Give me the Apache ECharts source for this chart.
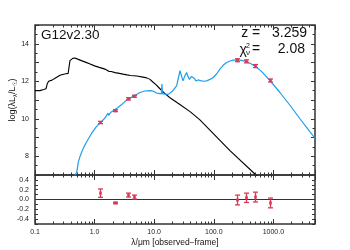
<!DOCTYPE html>
<html><head><meta charset="utf-8">
<script src="https://cdn.jsdelivr.net/npm/echarts@6/dist/echarts.min.js"></script>
<style>html,body{margin:0;padding:0;background:#fff}#c{width:350px;height:250px}</style>
</head><body><div id="c"></div>
<script>
// ---- data ----
const stellarLam = [0.1,0.121,0.14,0.153,0.16,0.169,0.18,0.193,0.217,0.23,0.263,0.29,0.33,0.36,0.383,0.386,0.39,0.41,0.43,0.45,0.47,0.52,0.6,0.7,0.84,1.0,1.2,1.45,1.6,1.65,1.7,1.75,1.9,2.2,2.6,3.0,3.5,4.0,5.1,6.5,7.5,8.5,9.5,10.7,12.5,15.2,18.4,27,40,58,83,187,511,900];
const stellarLog = [11.5,11.5,11.56,11.6,11.85,12.0,12.0,12.06,12.16,12.22,12.32,12.36,12.4,12.42,12.47,13.1,13.19,13.16,13.22,13.18,13.24,13.18,13.1,13.02,12.92,12.82,12.74,12.66,12.6,12.5,12.62,12.52,12.52,12.46,12.42,12.38,12.34,12.31,12.28,12.22,12.18,12.1,11.96,11.82,11.6,11.34,11.12,10.76,10.38,9.95,9.45,8.3,7.0,6.3];
const modelLam = [0.434,0.469,0.487,0.5,0.513,0.533,0.569,0.608,0.664,0.737,0.894,1.056,1.232,1.494,1.61,1.68,1.72,1.88,2.2,2.47,2.85,3.1,3.2,3.3,3.54,3.93,4.46,5.78,7.0,8.5,9.66,11.0,13.2,13.5,13.8,17.2,19.9,23.8,25.6,27.1,28.7,30.4,32.9,35.1,36.9,39.1,42.2,44.8,47.5,50.2,54.3,58.6,65.9,76,86.4,98.2,112,127,144,164,187,212,242,275,347,405,491,644,877,1290,1900,2794,3800,5000];
const modelLog = [6.0,7.0,7.08,7.15,7.33,7.69,7.98,8.23,8.5,8.77,9.23,9.55,9.77,10.04,10.12,10.3,10.18,10.35,10.49,10.6,10.76,10.86,10.96,10.9,11.03,11.1,11.2,11.4,11.48,11.5,11.47,11.37,11.33,11.85,11.33,11.3,11.45,11.75,12.2,12.56,12.3,12.02,12.3,12.47,12.25,12.1,12.25,12.32,12.15,12.02,12.07,12.05,12.0,12.02,12.1,12.2,12.4,12.65,12.85,13.0,13.08,13.13,13.14,13.13,13.06,12.96,12.81,12.5,12.04,11.4,10.72,10.0,9.45,8.96];
const obsLam = [1.25,2.2,3.6,4.5,250,350,500,870];
const obsLog = [9.8,10.43,11.06,11.2,13.12,13.06,12.81,12.04];
const obsErr = [0.06,0.05,0.06,0.05,0.08,0.08,0.08,0.08];
const resid = [0.13,-0.07,0.09,0.05,-0.01,0.035,0.05,-0.07];
const residErr = [0.085,0.015,0.04,0.04,0.1,0.095,0.1,0.1];
const xMajorTicks = [0.1,1,10,100,1000];
const xMinorMult = [2,3,4,5,6,7,8,9];
const titleText = 'G12v2.30';
const zText = 'z =   3.259';
const chiValue = '2.08';

const AX = '#333333';
const RED = '#D83A55';
const BLUE = '#1E9EEE';
const XMIN = 0.1, XMAX = 5000;
const GRID_W = 280, MAIN_H = 150, RES_H = 49;
const FONT = '"Liberation Sans", Arial, Helvetica, sans-serif';

function errSeries(idx, xs, ys, es) {
  return {
    type:'custom', xAxisIndex:idx, yAxisIndex:idx, silent:true, z:20,
    data: xs.map((x,i) => [x, ys[i], es[i]]),
    renderItem: function(params, api) {
      const x = api.value(0), y = api.value(1), e = api.value(2);
      const p0 = api.coord([x, y - e]), p1 = api.coord([x, y + e]), pc = api.coord([x, y]);
      const cx = Math.round(pc[0]) + 0.5;
      const st = {stroke:RED, lineWidth:1.3};
      return {type:'group', children:[
        {type:'line', shape:{x1:cx, y1:p0[1], x2:cx, y2:p1[1]}, style:st},
        {type:'line', shape:{x1:cx-2.5, y1:p0[1], x2:cx+2.5, y2:p0[1]}, style:st},
        {type:'line', shape:{x1:cx-2.5, y1:p1[1], x2:cx+2.5, y2:p1[1]}, style:st},
        {type:'rect', shape:{x:cx-1.5, y:pc[1]-1.5, width:3, height:3}, style:{fill:RED, opacity:0.8}}
      ]};
    }
  };
}

// minor log ticks (2..9 per decade) on top and bottom edges; each item = [lambda, edgeValue, lengthPx, direction]
function minorTickSeries(idx, yMin, yMax) {
  const items = [];
  xMajorTicks.forEach(d => xMinorMult.forEach(m => {
    const v = d * m;
    if (v < XMAX) { items.push([v, yMax, 2.5, 1]); items.push([v, yMin, 2.5, -1]); }
  }));
  return {
    type:'custom', xAxisIndex:idx, yAxisIndex:idx, silent:true, z:25,
    data: items,
    renderItem: function(params, api) {
      const p = api.coord([api.value(0), api.value(1)]);
      const len = api.value(2), dir = api.value(3);
      const x = Math.round(p[0]) + 0.5;
      return {type:'line', shape:{x1:x, y1:p[1], x2:x, y2:p[1] + dir * len}, style:{stroke:AX, lineWidth:1}};
    }
  };
}

const tickStyle = {color:AX, width:1};
function xAxisOpt(gi, pos, labels) {
  return {gridIndex:gi, position:pos, type:'log', logBase:10, min:XMIN, max:XMAX,
    axisLine:{show:false, onZero:false}, splitLine:{show:false}, minorTick:{show:false},
    axisTick:{show:true, inside:true, length:5, lineStyle:tickStyle},
    axisLabel: labels ? {show:true, margin:5, fontSize:7, color:'#222', fontFamily:FONT, hideOverlap:false,
      formatter: v => { const l = Math.log10(v); return Math.abs(l - Math.round(l)) < 1e-6 && l < 3.5 ? v.toFixed(1) : ''; }} : {show:false}};
}
function yMainOpt(pos, labels) {
  return {gridIndex:0, position:pos, type:'value', min:7, max:15, interval:1,
    axisLine:{show:false, onZero:false}, splitLine:{show:false},
    axisTick:{show:true, inside:true, length:4, lineStyle:tickStyle},
    minorTick:{show:true, splitNumber:2, length:2.5, lineStyle:tickStyle},
    axisLabel: labels ? {margin:6, fontSize:7, color:'#222', fontFamily:FONT, formatter: v => (v % 2 === 0 && v < 15) ? String(v) : ''} : {show:false}};
}
function yResOpt(pos, labels) {
  return {gridIndex:1, position:pos, type:'value', min:-0.5, max:0.5, interval:0.1,
    axisLine:{show:false, onZero:false}, splitLine:{show:false},
    axisTick:{show:true, inside:true, length:3, lineStyle:tickStyle},
    axisLabel: labels ? {margin:6, fontSize:7, color:'#222', fontFamily:FONT, formatter: v => { const r = Math.round(v*10); return (r % 2 === 0 && Math.abs(r) <= 4) ? (r/10).toFixed(1) : ''; }} : {show:false}};
}

const chart = echarts.init(document.getElementById('c'), null, {renderer:'canvas'});
chart.setOption({
  animation:false,
  backgroundColor:'#fff',
  grid:[
    {left:35, top:25, width:GRID_W, height:MAIN_H, show:true, borderColor:AX, borderWidth:1.5},
    {left:35, top:25 + MAIN_H, width:GRID_W, height:RES_H, show:true, borderColor:AX, borderWidth:1.5}
  ],
  xAxis:[ xAxisOpt(0,'bottom',false), xAxisOpt(1,'bottom',true), xAxisOpt(0,'top',false), xAxisOpt(1,'top',false) ],
  yAxis:[ yMainOpt('left',true), yResOpt('left',true), yMainOpt('right',false), yResOpt('right',false) ],
  series:[
    {type:'line', xAxisIndex:0, yAxisIndex:0, data: stellarLam.map((x,i)=>[x, stellarLog[i]]), showSymbol:false, symbol:'none', lineStyle:{color:'#000', width:1.1}, z:3},
    {type:'line', xAxisIndex:0, yAxisIndex:0, data: modelLam.map((x,i)=>[x, modelLog[i]]), showSymbol:false, symbol:'none', lineStyle:{color:BLUE, width:1.2}, z:4},
    {type:'line', xAxisIndex:1, yAxisIndex:1, data: [[XMIN,0],[XMAX,0]], showSymbol:false, symbol:'none', lineStyle:{color:AX, width:1.2}, z:3},
    errSeries(0, obsLam, obsLog, obsErr),
    errSeries(1, obsLam, resid, residErr),
    minorTickSeries(0, 7, 15),
    minorTickSeries(1, -0.5, 0.5)
  ],
  graphic:[
    {type:'text', x:41, y:35, style:{text:titleText, font:'13.5px '+FONT, fill:'#111', align:'left', verticalAlign:'middle'}},
    {type:'text', x:307, y:33.5, style:{text:zText, font:'14px '+FONT, fill:'#111', align:'right', verticalAlign:'middle'}},
    {type:'text', x:252, y:49.5, style:{text:'=', font:'14px '+FONT, fill:'#111', align:'left', verticalAlign:'middle'}},
    {type:'text', x:305, y:49.5, style:{text:chiValue, font:'14px '+FONT, fill:'#111', align:'right', verticalAlign:'middle'}},
    {type:'text', x:239.5, y:50.5, style:{text:'χ', font:'14px '+FONT, fill:'#111', align:'left', verticalAlign:'middle'}},
    {type:'text', x:246, y:46, style:{text:'2', font:'7px '+FONT, fill:'#111', align:'left', verticalAlign:'middle'}},
    {type:'text', x:246, y:53, style:{text:'ν', font:'8px '+FONT, fill:'#111', align:'left', verticalAlign:'middle'}},
    {type:'text', x:13, y:100, rotation:Math.PI/2, style:{text:'{a|log(λL}{s|λ}{a|/L}{s|☉}{a|)}', align:'center', verticalAlign:'middle',
      rich:{a:{fontSize:9, fontFamily:FONT, fill:'#111', lineHeight:10}, s:{fontSize:6, fontFamily:FONT, fill:'#111', lineHeight:6, verticalAlign:'bottom'}}}},
    {type:'text', x:175, y:243, style:{text:'λ/μm [observed−frame]', font:'8.5px '+FONT, fill:'#111', align:'center', verticalAlign:'middle'}}
  ]
});
</script></body></html>
